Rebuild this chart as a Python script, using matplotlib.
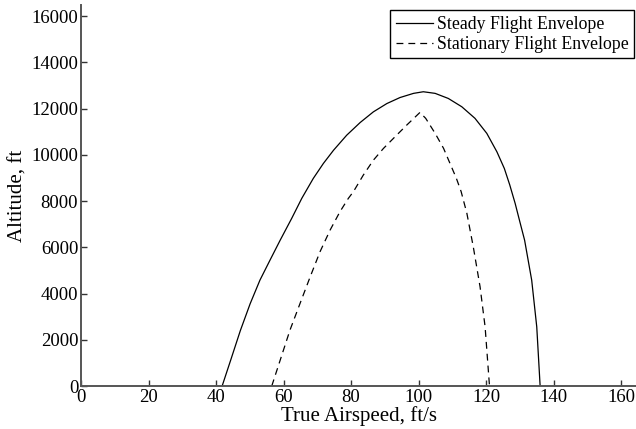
import matplotlib
matplotlib.use("Agg")
import matplotlib.pyplot as plt

# Envelope (airspeed in ft/s, altitude in ft)
steady_v = [41.8, 44.4, 47.2, 50.1, 53.0, 56.0, 59.0, 62.4, 65.4, 68.8, 71.8, 74.8,
            78.7, 82.7, 86.6, 90.6, 94.5, 98.5, 101.4, 104.9, 108.8, 112.8, 116.7,
            120.2, 123.2, 125.4, 127.0, 128.6, 130.0, 131.4, 133.5, 135.0, 136.0]
steady_h = [0, 1150, 2400, 3560, 4580, 5450, 6310, 7250, 8120, 8980, 9630, 10200,
            10850, 11400, 11860, 12220, 12480, 12660, 12730, 12660, 12440, 12080, 11580,
            10930, 10130, 9410, 8700, 7900, 7100, 6310, 4580, 2560, 0]

stat_v = [56.5, 59.0, 61.9, 64.9, 67.9, 70.8, 73.8, 76.7, 79.2, 80.7, 83.6, 86.6,
          89.6, 93.0, 96.5, 100.4, 102.1, 104.9, 107.4, 109.3, 111.2, 112.6, 114.3,
          116.2, 118.2, 119.7, 121.0]
stat_h = [0, 1120, 2420, 3580, 4730, 5810, 6750, 7540, 8120, 8410, 9120, 9770,
          10280, 10780, 11290, 11835, 11580, 10930, 10280, 9630, 8980, 8410, 7470,
          6020, 4300, 2560, 0]

plt.rcParams["font.family"] = ["Liberation Serif", "DejaVu Serif"]

fig = plt.figure(figsize=(6.36, 4.29), dpi=100)
ax = fig.add_axes([0.1274, 0.1002, 0.8726, 0.888])

ax.plot(steady_v, steady_h, color="black", linewidth=0.9, label="Steady Flight Envelope")
ax.plot(stat_v, stat_h, color="black", linewidth=0.9, linestyle=(0, (5.5, 4)),
        label="Stationary Flight Envelope")

ax.set_xlim(0, 164.4)
ax.set_ylim(0, 16480)
ax.set_xticks(range(0, 161, 20))
ax.set_yticks(range(0, 16001, 2000))

for side in ["top", "right"]:
    ax.spines[side].set_visible(False)
for side in ["left", "bottom"]:
    ax.spines[side].set_color("#555555")
    ax.spines[side].set_linewidth(1.4)

ax.tick_params(direction="in", length=4, width=1.0, color="#333333",
               labelsize=13.5, pad=2)

ax.set_xlabel("True Airspeed, ft/s", fontsize=15, labelpad=0)
ax.set_ylabel("Altitude, ft", fontsize=15, labelpad=3)

leg = ax.legend(loc="upper right", bbox_to_anchor=(0.9965, 0.986), fontsize=12.8,
                frameon=True, fancybox=False, framealpha=1.0, borderpad=0.3,
                labelspacing=0.18, handlelength=2.1, handletextpad=0.23,
                borderaxespad=0.0)
leg.get_frame().set_edgecolor("black")
leg.get_frame().set_linewidth(1.0)

fig.savefig("out.png", dpi=100)
